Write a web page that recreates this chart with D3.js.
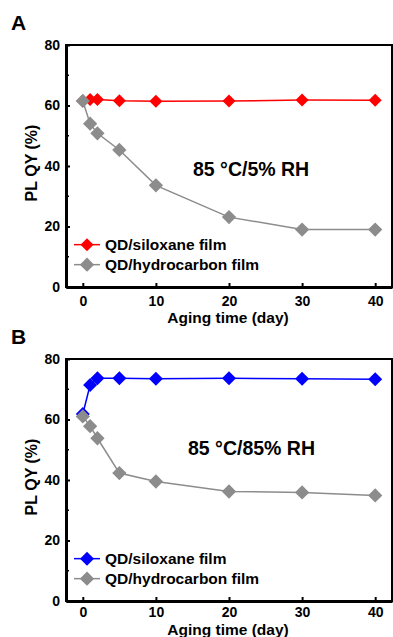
<!DOCTYPE html>
<html>
<head>
<meta charset="utf-8">
<script src="https://cdn.jsdelivr.net/npm/d3@7"></script>
<style>
  body { margin: 0; background: #fff; }
  svg { font-family: "Liberation Sans", Arial, sans-serif; font-weight: bold; }
</style>
</head>
<body>
<div class="fig"></div>
<script>
const days = [0, 1, 2, 5, 10, 20, 30, 40];
const xTicks = [0, 10, 20, 30, 40];
const yTicks = [0, 20, 40, 60, 80];

const sil5 = [61.5, 62, 62, 61.6, 61.4, 61.5, 61.8, 61.7];
const hyd5 = [61.5, 54, 50.8, 45.3, 33.6, 23.1, 19, 19];
const sil85 = [61.8, 71.4, 73.6, 73.6, 73.5, 73.6, 73.5, 73.3];
const hyd85 = [61, 57.8, 53.8, 42.3, 39.5, 36.2, 35.9, 34.9];

const panels = [
  { letter: "A", top: 45, sil: sil5, hyd: hyd5, silColor: "#ff0000", silSize: 108,
    cond: "85 °C/5% RH", condX: 193, condY: 36.7, tickPad: 9, titleOff: 36 },
  { letter: "B", top: 359, sil: sil85, hyd: hyd85, silColor: "#0000ff", silSize: 125,
    cond: "85 °C/85% RH", condX: 188, condY: 48.3, tickPad: 6, titleOff: 34 }
];

const W = 393, H = 637;
const plotL = 66, plotR = 392, plotH = 242;

const svg = d3.select(".fig").append("svg")
  .attr("width", W).attr("height", H);

const x = d3.scaleLinear().domain([-2.3, 42.3]).range([plotL, plotR]);

const diamond = d3.symbol().type(d3.symbolDiamond2);

panels.forEach(p => {
  const y = d3.scaleLinear().domain([0, 80]).range([p.top + plotH, p.top]);
  const g = svg.append("g");

  // frame
  g.append("rect")
    .attr("x", plotL).attr("y", p.top)
    .attr("width", plotR - plotL).attr("height", plotH)
    .attr("fill", "none").attr("stroke", "#000").attr("stroke-width", 2);

  // axes
  const xAxis = g.append("g")
    .attr("transform", "translate(0," + (p.top + plotH) + ")")
    .call(d3.axisBottom(x).tickValues(xTicks).tickSizeInner(-4).tickSizeOuter(0).tickPadding(p.tickPad));
  const yAxis = g.append("g")
    .attr("transform", "translate(" + plotL + ",0)")
    .call(d3.axisLeft(y).tickValues(yTicks).tickSizeInner(-4).tickSizeOuter(0).tickPadding(6));
  [xAxis, yAxis].forEach(a => {
    a.select(".domain").attr("stroke-width", 3);
    a.selectAll(".tick line").attr("stroke-width", 2);
    a.selectAll(".tick text")
      .attr("font-size", 14).attr("font-weight", "bold")
      .attr("font-family", "Liberation Sans, Arial, sans-serif");
  });
  // minor y ticks
  g.selectAll(".minor").data([10, 30, 50, 70]).join("line")
    .attr("x1", plotL).attr("x2", plotL + 3)
    .attr("y1", d => y(d)).attr("y2", d => y(d))
    .attr("stroke", "#000").attr("stroke-width", 1.5);

  g.append("text")
    .attr("x", 11).attr("y", p.top - 15)
    .attr("font-size", 21).text(p.letter);

  g.append("text")
    .attr("transform", "translate(37," + (p.top + plotH / 2 - 3) + ") rotate(-90)")
    .attr("text-anchor", "middle").attr("font-size", 16)
    .text("PL QY (%)");

  g.append("text")
    .attr("x", 228).attr("y", p.top + plotH + p.titleOff)
    .attr("text-anchor", "middle").attr("font-size", 15.5)
    .text("Aging time (day)");

  g.append("text")
    .attr("x", p.condX).attr("y", y(p.condY))
    .attr("font-size", 19.5).text(p.cond);

  const line = d3.line().x((d, i) => x(days[i])).y(d => y(d));
  const series = [
    { vals: p.sil, color: p.silColor, size: p.silSize, name: "QD/siloxane film" },
    { vals: p.hyd, color: "#8c8c8c", size: 130, name: "QD/hydrocarbon film" }
  ];
  series.forEach(s => {
    g.append("path").datum(s.vals)
      .attr("d", line).attr("fill", "none")
      .attr("stroke", s.color).attr("stroke-width", 1.5);
    g.selectAll(null).data(s.vals).join("path")
      .attr("transform", (d, i) => "translate(" + x(days[i]) + "," + y(d) + ")")
      .attr("d", diamond.size(s.size)).attr("fill", s.color);
  });

  // legend
  series.forEach((s, i) => {
    const ly = y(14) + i * 20;
    g.append("line")
      .attr("x1", 74).attr("x2", 100).attr("y1", ly).attr("y2", ly)
      .attr("stroke", s.color).attr("stroke-width", 1.5);
    g.append("path")
      .attr("transform", "translate(87," + ly + ")")
      .attr("d", diamond.size(s.size)).attr("fill", s.color);
    g.append("text")
      .attr("x", 105).attr("y", ly + 5.5)
      .attr("font-size", 15.5).text(s.name);
  });
});
</script>
</body>
</html>
